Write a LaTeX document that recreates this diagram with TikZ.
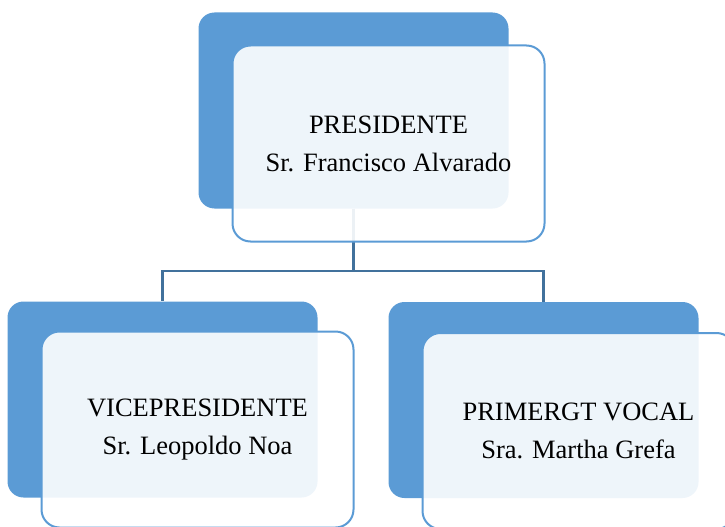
\documentclass[tikz,border=0pt]{standalone}
\usepackage{fontspec}
\setmainfont{Liberation Serif}
\usepackage{tikz}

\definecolor{cargo}{RGB}{91,155,213}
\definecolor{enlace}{RGB}{65,113,156}

\begin{document}
\begin{tikzpicture}[x=1pt, y=-1pt,
    back/.style={rectangle, rounded corners=16pt, fill=cargo, draw=none,
        minimum width=310pt, minimum height=196pt, inner sep=0pt},
    front/.style={rectangle, rounded corners=18pt, fill=white, fill opacity=0.9,
        text opacity=1, draw=cargo, draw opacity=1, line width=2pt,
        minimum width=312pt, minimum height=196pt, inner sep=0pt, align=center,
        font=\fontsize{26.5}{38}\selectfont},
    link/.style={draw=enlace, line width=2.4pt}]

        \useasboundingbox (0,0) rectangle (725,527);

        % Cajas de fondo
        \node[back] (presBack) at (353.5,110.5) {};
        \node[back] (viceBack) at (162.5,399.5) {};
        \node[back] (vocalBack) at (543.5,400) {};

        % Lineas
        \coordinate (fork) at (353.5,271);
        \draw[link] (presBack.south) -- (fork) -| (viceBack.north);
        \draw[link] (fork) -| (vocalBack.north);

        % Cajas con texto
        \node[front, xshift=35pt, yshift=-33pt] (presFront) at (presBack) {PRESIDENTE\\Sr. Francisco Alvarado};
        \node[front, xshift=35pt, yshift=-30pt] (viceFront) at (viceBack) {VICEPRESIDENTE\\Sr. Leopoldo Noa};
        \node[front, xshift=35pt, yshift=-31pt] (vocalFront) at (vocalBack) {PRIMERGT VOCAL\\Sra. Martha Grefa};
\end{tikzpicture}
\end{document}
